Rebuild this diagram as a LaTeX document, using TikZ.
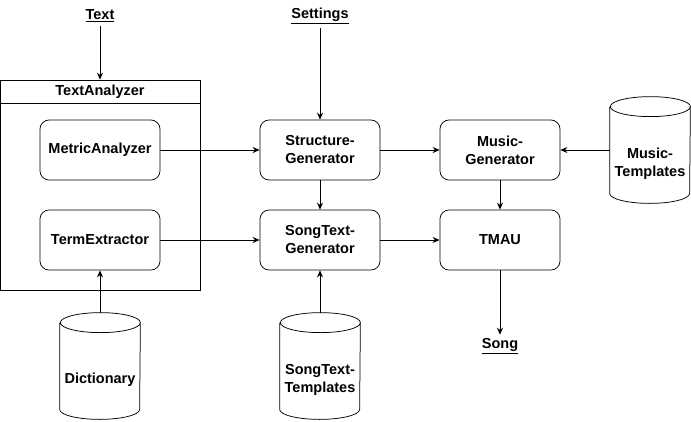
\documentclass[tikz,border=0pt]{standalone}
\usepackage{fontspec}
\setmainfont{Liberation Sans}
\usetikzlibrary{arrows.meta}

\tikzset{
  lbl/.style={font=\fontsize{14.5}{18}\selectfont\bfseries},
  block/.style={lbl, draw, rounded corners=9pt, minimum width=120pt, minimum height=60pt, align=center},
  store/.style={minimum width=80pt, minimum height=106pt, inner sep=0pt,
    label={[lbl, align=center, yshift=-14pt]center:#1}},
  flow/.style={-{Stealth[length=7pt,width=6pt]}}
}

\begin{document}
\begin{tikzpicture}[x=1pt, y=-1pt, line width=0.75pt]
        \useasboundingbox (0,0) rectangle (691,421);

        % Inputs
        \node[lbl] (text) at (100,16) {\underline{Text}};
        \node[lbl] (settings) at (320,16) {\underline{Settings}};

        % TextAnalyzer container
        \node[draw, minimum width=200pt, minimum height=210pt] (ana) at (100,185) {};
        \draw (0,103) -- (200,103);
        \node[lbl] (anatitle) at (100,92) {TextAnalyzer};
        \node[block] (metric) at (100,150) {MetricAnalyzer};
        \node[block] (term) at (100,240) {TermExtractor};

        % Generators
        \node[block] (struct) at (320,150) {Structure-\\Generator};
        \node[block] (songgen) at (320,240) {SongText-\\Generator};
        \node[block] (musicgen) at (500,150) {Music-\\Generator};
        \node[block] (tmau) at (500,240) {TMAU};

        % Stores (cylinders)
        \node[store={Dictionary}] (dict) at (100,366) {};
        \node[store={SongText-\\Templates}] (songtpl) at (320,366) {};
        \node[store={Music-\\Templates}] (musictpl) at (650,150) {};
        \foreach \s in {dict,songtpl,musictpl} {
            \draw ([yshift=-10pt]\s.north west) -- ([yshift=10pt]\s.south west)
                arc[start angle=180, end angle=360, x radius=40pt, y radius=10pt]
                -- ([yshift=-10pt]\s.north east)
                arc[start angle=0, end angle=360, x radius=40pt, y radius=10pt];
        }

        % Output
        \node[lbl] (song) at (500,346) {\underline{Song}};

        % Connectors
        \draw[flow] (text) -- (ana.north);
        \draw[flow] (settings) -- (struct);
        \draw[flow] (metric) -- (struct);
        \draw[flow] (term) -- (songgen);
        \draw[flow] (struct) -- (songgen);
        \draw[flow] (struct) -- (musicgen);
        \draw[flow] (songgen) -- (tmau);
        \draw[flow] (musicgen) -- (tmau);
        \draw[flow] (musictpl) -- (musicgen);
        \draw[flow] (tmau) -- (song);
        \draw[flow] (dict) -- (term);
        \draw[flow] (songtpl) -- (songgen);
    \end{tikzpicture}
\end{document}
